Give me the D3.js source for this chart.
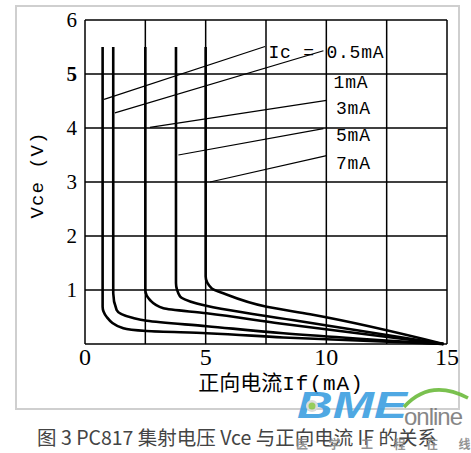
<!DOCTYPE html>
<html>
<head>
<meta charset="utf-8">
<script src="https://cdn.jsdelivr.net/npm/d3@7"></script>
<style>
  body { margin: 0; background: #fff; }
</style>
</head>
<body>
<div id="chart"></div>
<script>
// PC817: Vce vs forward current If, one curve per collector current
const xGrid = [0, 2.5, 5, 7.5, 10, 12.5, 15];
const xTickLabels = [0, 5, 10, 15];
const yTickLabels = [1, 2, 3, 4, 5, 6];

const curveNames = ["0.5mA", "1mA", "3mA", "5mA", "7mA"];

// [If (mA), Vce (V)]
const ic05 = [[0.73, 5.5], [0.73, 0.69], [0.9, 0.5], [1.59, 0.29], [2.55, 0.24], [5.04, 0.2], [8.22, 0.12], [14.85, 0]];
const ic1 = [[1.17, 5.5], [1.17, 0.94], [1.31, 0.63], [2.0, 0.48], [2.56, 0.43], [5.04, 0.33], [8.22, 0.2], [14.85, 0]];
const ic3 = [[2.5, 5.5], [2.5, 1.0], [2.7, 0.81], [3.25, 0.66], [5.04, 0.57], [8.08, 0.38], [14.85, 0]];
const ic5 = [[3.77, 5.5], [3.77, 1.13], [3.94, 0.88], [4.63, 0.75], [8.92, 0.42], [14.85, 0]];
const ic7 = [[5.0, 5.5], [5.0, 1.25], [5.25, 1.03], [5.73, 0.94], [7.53, 0.69], [9.33, 0.55], [14.85, 0]];
const curves = [ic05, ic1, ic3, ic5, ic7];

// leader lines: label end -> curve end
const leaders = [
  [[7.46, 5.51], [0.79, 4.53]],
  [[9.88, 5.43], [1.24, 4.28]],
  [[10.01, 4.51], [2.69, 4.01]],
  [[9.88, 3.99], [3.87, 3.5]],
  [[10.01, 3.49], [5.18, 3.0]]
];
const labelTexts = ["Ic = 0.5mA", "1mA", "3mA", "5mA", "7mA"];
const labelPos = [[7.6, 5.41], [10.3, 4.85], [10.4, 4.37], [10.4, 3.87], [10.4, 3.35]];

const width = 471, height = 453;
const svg = d3.select("#chart").append("svg")
    .attr("width", width)
    .attr("height", height);

const x = d3.scaleLinear().domain([0, 15]).range([85, 447]);
const y = d3.scaleLinear().domain([0, 6]).range([344, 20]);

// light outer frame
svg.append("rect")
    .attr("x", 16).attr("y", 6)
    .attr("width", 443).attr("height", 403)
    .attr("fill", "none")
    .attr("stroke", "#cfcfcf")
    .attr("stroke-width", 2);

// grid
const grid = svg.append("g").attr("stroke", "#000").attr("stroke-width", 1.5);
grid.selectAll(".vx")
  .data(xGrid)
  .join("line")
    .attr("x1", d => x(d)).attr("x2", d => x(d))
    .attr("y1", y(0)).attr("y2", y(6));
grid.selectAll(".hy")
  .data([0].concat(yTickLabels))
  .join("line")
    .attr("x1", x(0)).attr("x2", x(15))
    .attr("y1", d => y(d)).attr("y2", d => y(d));

// tick labels
svg.append("g")
  .selectAll("text")
  .data(xTickLabels)
  .join("text")
    .attr("x", d => x(d))
    .attr("y", 365)
    .attr("text-anchor", "middle")
    .attr("font-family", "Liberation Serif")
    .attr("font-size", 24)
    .text(d => d);

svg.append("g")
  .selectAll("text")
  .data(yTickLabels)
  .join("text")
    .attr("x", 77)
    .attr("y", d => y(d))
    .attr("dy", "0.35em")
    .attr("text-anchor", "end")
    .attr("font-family", "Liberation Serif")
    .attr("font-size", 21)
    .attr("font-weight", d => d === 5 ? "bold" : "normal")
    .text(d => d);

// axis titles
svg.append("text")
    .attr("transform", "translate(43,175) rotate(-90)")
    .attr("text-anchor", "middle")
    .attr("font-family", "Liberation Mono")
    .attr("font-size", 19)
    .attr("letter-spacing", 1)
    .text("Vce (V)");

const xt = svg.append("text")
    .attr("x", 281).attr("y", 390)
    .attr("text-anchor", "middle")
    .attr("font-size", 21);
xt.append("tspan").attr("font-family", "Noto Sans CJK SC").text("正向电流");
xt.append("tspan").attr("font-family", "Liberation Mono").attr("letter-spacing", 1).text("If(mA)");

// curves
const line = d3.line()
    .x(d => x(d[0]))
    .y(d => y(d[1]))
    .curve(d3.curveMonotoneY);

svg.append("g")
  .selectAll("path")
  .data(curves)
  .join("path")
    .attr("d", line)
    .attr("fill", "none")
    .attr("stroke", "#000")
    .attr("stroke-width", 2.6)
    .attr("stroke-linejoin", "round");

// leaders and labels
svg.append("g")
  .selectAll("line")
  .data(leaders)
  .join("line")
    .attr("x1", d => x(d[0][0])).attr("y1", d => y(d[0][1]))
    .attr("x2", d => x(d[1][0])).attr("y2", d => y(d[1][1]))
    .attr("stroke", "#000")
    .attr("stroke-width", 1.2);

svg.append("g")
  .selectAll("text")
  .data(labelTexts)
  .join("text")
    .attr("x", (d, i) => x(labelPos[i][0]))
    .attr("y", (d, i) => y(labelPos[i][1]))
    .attr("dy", "0.35em")
    .attr("font-family", "Liberation Mono")
    .attr("font-size", 18)
    .attr("letter-spacing", 0.8)
    .text(d => d);

// caption
svg.append("text")
    .attr("x", 237).attr("y", 445)
    .attr("text-anchor", "middle")
    .attr("font-family", "Noto Sans CJK SC, sans-serif")
    .attr("font-size", 19.5)
    .attr("fill", "#444")
    .text("图 3 PC817 集射电压 Vce 与正向电流 IF 的关系");

// watermark
const wm = svg.append("g").attr("opacity", 0.9);
wm.append("text")
    .attr("x", 297).attr("y", 418)
    .attr("font-family", "Liberation Sans")
    .attr("font-weight", "bold")
    .attr("font-style", "italic")
    .attr("font-size", 36)
    .attr("textLength", 110)
    .attr("lengthAdjust", "spacingAndGlyphs")
    .attr("fill", "#3d9fe0")
    .text("BME");
wm.append("circle")
    .attr("cx", 312).attr("cy", 406).attr("r", 6)
    .attr("fill", "#d9d9d9");
wm.append("circle")
    .attr("cx", 312).attr("cy", 406).attr("r", 3.5)
    .attr("fill", "#8cc84b");
wm.append("path")
    .attr("d", "M404,407 Q430,378 468,398")
    .attr("fill", "none")
    .attr("stroke", "#6cbb3c")
    .attr("stroke-width", 3.5);
wm.append("text")
    .attr("x", 404).attr("y", 425)
    .attr("font-family", "Liberation Sans")
    .attr("font-size", 24)
    .attr("letter-spacing", -1)
    .attr("fill", "#7a7a7a")
    .text("online");
wm.selectAll(".cn")
  .data(["医", "学", "工", "程", "在", "线"])
  .join("text")
    .attr("x", (d, i) => 302 + i * 32.5)
    .attr("y", 449)
    .attr("text-anchor", "middle")
    .attr("font-family", "Noto Sans CJK SC")
    .attr("font-weight", "bold")
    .attr("font-size", 12)
    .attr("fill", "#888")
    .text(d => d);
</script>
</body>
</html>
